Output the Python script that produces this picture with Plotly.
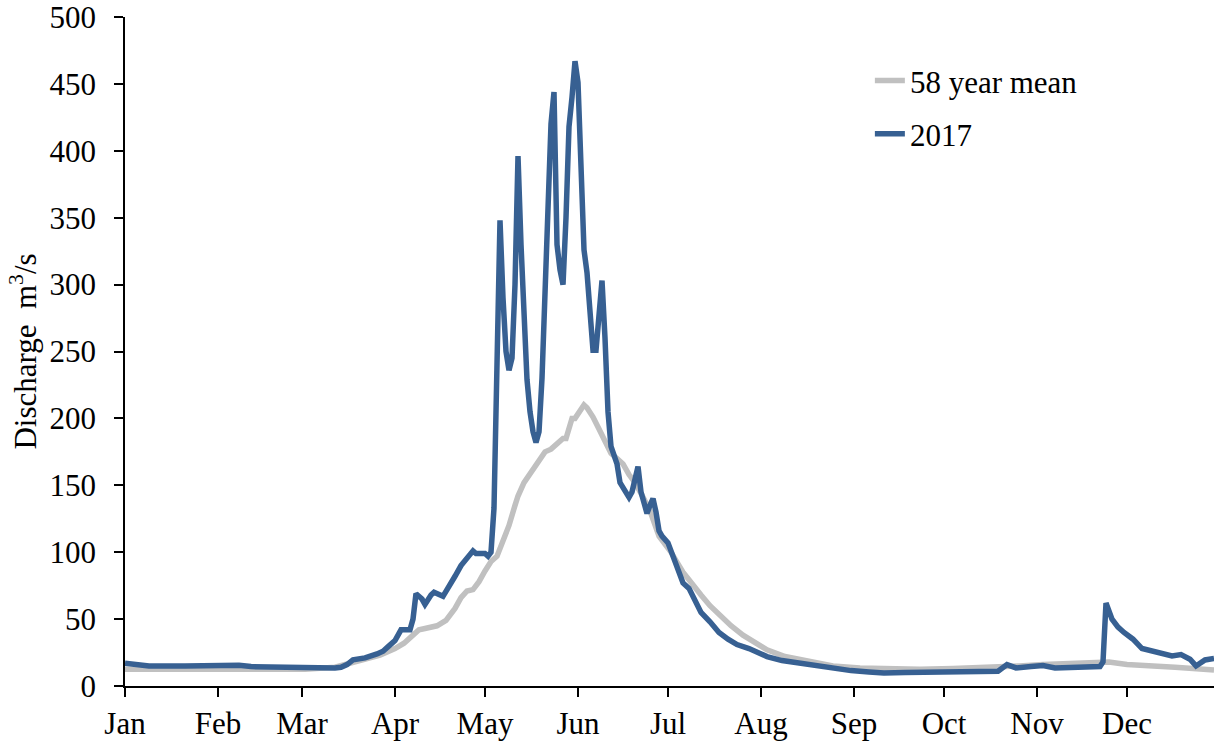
import plotly.graph_objects as go

# Day of year (0 = 1 Jan) and discharge (m3/s)
mean_days = [0, 15, 30, 45, 60, 70, 75, 80, 85, 90, 93, 96, 98, 100, 104, 107, 110, 112, 114, 116,
             118, 120, 122, 124, 126, 128, 130, 131, 133, 136, 138, 140, 142, 144, 146, 147, 148,
             149, 150, 151, 152, 153, 154, 156, 158, 160, 162, 164, 166, 168, 170, 172, 175, 178,
             180, 182, 186, 189, 192, 195, 198, 202, 206, 210, 214, 220, 225, 230, 236, 245, 255,
             265, 276, 285, 298, 306, 316, 322, 328, 334, 340, 344, 350, 356, 363]
mean_vals = [12.5, 12, 12.5, 12.5, 12.5, 14, 17, 20, 23, 28, 32, 38, 42, 43, 45, 49, 58, 66, 71, 72,
             78, 86, 93, 97, 108, 120, 135, 142, 152, 162, 168, 175, 177, 181, 185, 185, 192,
             200, 200, 203, 206, 210, 208, 201, 192, 182, 174, 170, 166, 158, 152, 144, 131, 112,
             106, 100, 85, 76, 68, 60, 53, 45, 38, 32, 27, 22, 19.5, 17, 15, 13.5, 12.7,
             12.5, 13, 13.5, 15, 16, 17, 17.5, 18, 16, 15.5, 14.8, 14, 13, 12]

y2017_days = [0, 3, 8, 20, 30, 38, 42, 50, 60, 70, 72, 74, 76, 80, 84, 86, 88, 90, 92, 95, 96, 97,
              99, 100, 102, 103, 106, 108, 110, 112, 114, 116, 117, 120, 121, 122, 123, 125, 126,
              127, 128, 129, 130, 131, 132, 133, 134, 135, 136, 137, 138, 139, 140, 141, 142, 143,
              144, 145, 146, 147, 148, 149, 150, 151, 152, 153, 154, 155, 156, 157, 158, 159, 160,
              161, 162, 164, 165, 166, 168, 169, 170, 171, 172, 173, 174, 175, 176, 177, 178, 179,
              181, 183, 185, 186, 188, 190, 192, 195, 198, 201, 204, 208, 211, 214, 219, 225, 230,
              236, 242, 248, 253, 260, 265, 275, 287, 291, 294, 297, 302, 306, 310, 316, 320, 325,
              326, 327, 329, 331, 333, 336, 339, 344, 349, 352, 355, 357, 360, 363]
y2017_vals = [17, 16, 15, 15, 15.5, 15.5, 14.5, 14, 14, 13.5, 14, 16, 19.5, 21, 24, 26, 30, 34, 42, 42, 50, 69,
              65, 61, 68, 70, 67, 74, 82, 90, 96, 101, 99, 99, 97, 100, 133, 348, 290,
              250, 236, 245, 300, 396, 330, 265, 229, 205, 190, 182, 190, 230, 300, 370, 420, 444,
              330, 311, 300, 350, 418, 440, 467, 451, 390, 326, 309, 275, 251, 251, 275, 303, 260,
              205, 179, 166, 152, 148, 141, 145, 155, 164, 145, 135, 129, 135, 140, 130, 116, 112,
              107, 95, 82, 77, 73, 63, 55, 48, 40, 35, 31, 28, 25, 22, 19, 17, 15,
              13, 11.5, 10.5, 9.8, 10, 10.2, 10.5, 11, 11, 16, 13.5, 14.5, 15.3, 13.5, 14.2, 14, 14.5,
              18, 62, 50, 44, 40, 35, 28, 25, 22.5, 23.5, 20, 15, 19.5, 20.5]

month_starts = [0, 31, 59, 90, 120, 151, 181, 212, 243, 273, 304, 334]
month_labels = ["Jan", "Feb", "Mar", "Apr", "May", "Jun", "Jul", "Aug", "Sep", "Oct", "Nov", "Dec"]
y_ticks = [0, 50, 100, 150, 200, 250, 300, 350, 400, 450, 500]

FONT = "Liberation Serif, Times New Roman, serif"
FS = 31

fig = go.Figure()
fig.add_trace(go.Scatter(x=mean_days, y=mean_vals, mode="lines", name="58 year mean",
                         legendgroup="a",
                         line=dict(color="#C0C0C0", width=5.5)))
fig.add_trace(go.Scatter(x=y2017_days, y=y2017_vals, mode="lines", name="2017",
                         legendgroup="b",
                         line=dict(color="#376092", width=5.5)))

fig.update_layout(
    width=1214, height=744,
    margin=dict(l=125, r=0, t=17, b=58),
    paper_bgcolor="white", plot_bgcolor="white",
    font=dict(family=FONT, size=FS, color="black"),
    showlegend=True,
    legend=dict(x=0.684, y=0.945, xanchor="left", yanchor="top",
                bgcolor="rgba(0,0,0,0)", tracegroupgap=10,
                font=dict(family=FONT, size=FS, color="black")),
    xaxis=dict(range=[0, 363], tickvals=month_starts, ticktext=month_labels,
               showgrid=False, zeroline=False, showline=True, linecolor="black", linewidth=1.5,
               ticks="outside", ticklen=9, tickwidth=1.5, tickcolor="black",
               ticklabelstandoff=0, ticklabeloverflow="allow"),
    yaxis=dict(range=[0, 500], tickvals=y_ticks,
               showgrid=False, zeroline=False, showline=True, linecolor="black", linewidth=1.5,
               ticks="outside", ticklen=9, tickwidth=1.5, tickcolor="black",
               ticklabelstandoff=12, ticklabeloverflow="allow",
               title=dict(text="Discharge  m<sup>3</sup>/s", standoff=4,
                          font=dict(family=FONT, size=FS, color="black"))),
)

fig.write_html("out.html")
